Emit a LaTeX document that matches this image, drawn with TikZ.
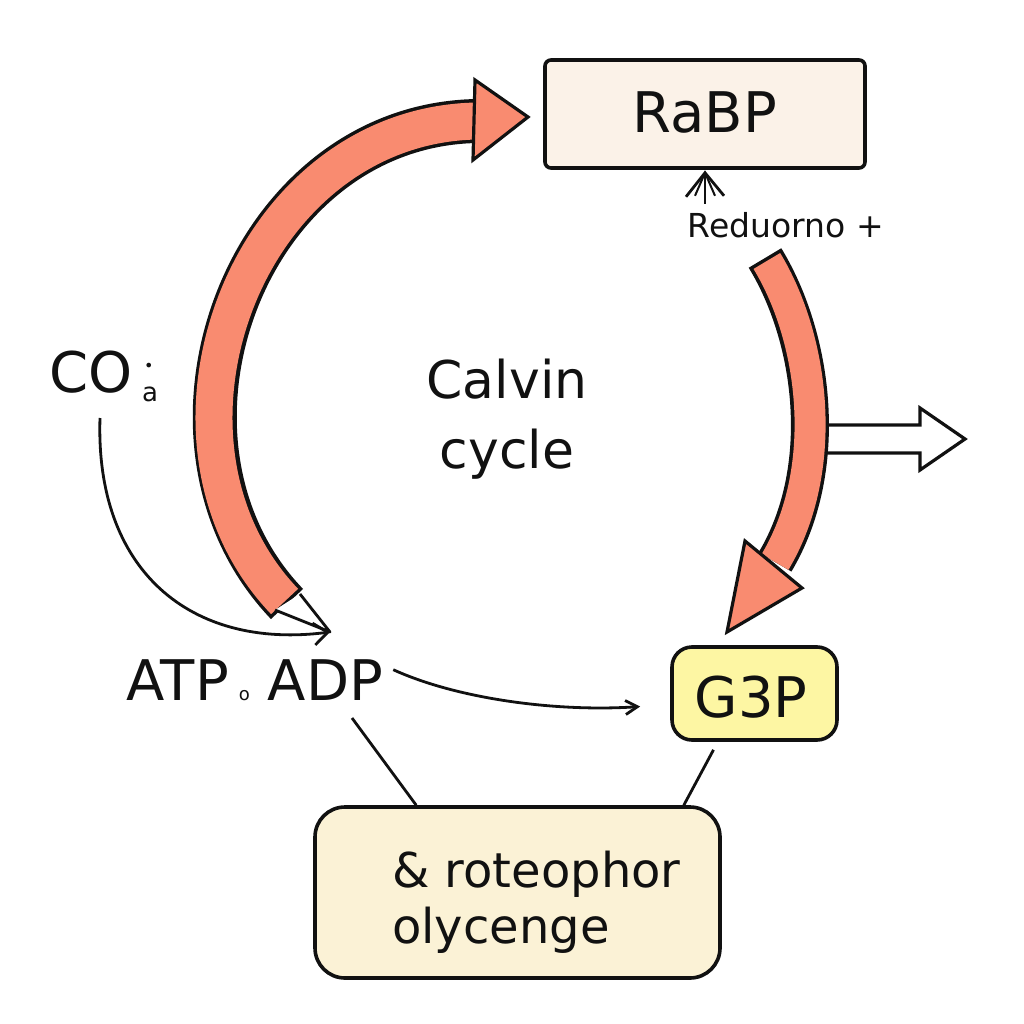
\documentclass[tikz,border=0pt]{standalone}
\usepackage{fontspec}
\setmainfont{DejaVu Sans}
\usetikzlibrary{arrows.meta,calc}
\definecolor{salmon}{HTML}{F98B70}
\definecolor{rabpfill}{HTML}{FBF2E8}
\definecolor{gfill}{HTML}{FDF6A3}
\definecolor{botfill}{HTML}{FBF2D6}
\definecolor{ink}{HTML}{111111}
\tikzset{
  boxstyle/.style={draw=ink, line width=3.6pt, inner sep=0pt},
  lbl/.style={text=ink, inner sep=0pt},
  thinline/.style={draw=ink, line width=2.8pt},
  bandout/.style={draw=ink, line cap=butt},
  bandin/.style={draw=salmon, line cap=butt},
}
\begin{document}
\begin{tikzpicture}[x=1pt,y=-1pt]
\useasboundingbox (0,0) rectangle (1024,1024);
\fill[white] (0,0) rectangle (1024,1024);

% boxes
\node[boxstyle, fill=rabpfill, rounded corners=6pt, minimum width=320pt, minimum height=108pt] (rabp) at (705,114) {};
\node[lbl, anchor=base, font=\fontsize{56}{60}\selectfont] (rabptxt) at (705,133) {RaBP};
\node[boxstyle, fill=gfill, rounded corners=20pt, minimum width=165pt, minimum height=93pt] (g3p) at (754.5,693.5) {};
\node[lbl, anchor=base, font=\fontsize{56}{60}\selectfont] (g3ptxt) at (751,717) {G3P};
\node[boxstyle, fill=botfill, rounded corners=30pt, minimum width=405pt, minimum height=171pt] (bot) at (517.5,892.5) {};
\node[lbl, anchor=base west, align=left, font=\fontsize{48}{56}\selectfont] (bottxt) at (392,943) {\& roteophor\\olycenge};

% labels
\node[lbl, anchor=base, font=\fontsize{33}{36}\selectfont] (red) at (786,237) {Reduorno +};
\node[lbl, anchor=base, font=\fontsize{56}{60}\selectfont] (co) at (91,392) {CO};
\node[lbl, anchor=base west, font=\fontsize{16}{16}\selectfont] (codot) at (144,371) {•};
\node[lbl, anchor=base west, font=\fontsize{26}{26}\selectfont] (cosub) at (142,401) {a};
\node[lbl, anchor=base, font=\fontsize{52}{70}\selectfont, align=center] (calvin) at (507,468) {Calvin\\cycle};
\node[lbl, anchor=base, font=\fontsize{56}{60}\selectfont] (atp) at (255,700) {ATP\hspace{10pt}{\fontsize{18}{18}\selectfont o}\hspace{18pt}ADP};

% hollow arrow to the right
\fill[white] (826,425) -- (920,425) -- (920,408) -- (965,439) -- (920,470) -- (920,453) -- (826,453) -- cycle;
\draw[ink, line width=3.2pt, line join=miter] (826,425) -- (920,425) -- (920,408) -- (965,439) -- (920,470) -- (920,453) -- (826,453);

% right big arrow
\coordinate (rs) at (765,258);
\coordinate (re) at (775,562);
\draw[bandout, line width=38pt] (rs) .. controls (815,340) and (830,470) .. (re);
\draw[bandin, line width=31pt, shorten <=3.5pt] (rs) .. controls (815,340) and (830,470) .. (re);
\draw[ink, fill=salmon, line width=3.2pt, line join=miter] (745,541) -- (727,632) -- (802,588) -- cycle;

% left big arrow
\coordinate (ls) at (287,604);
\coordinate (le) at (477,121);
\draw[bandout, line width=44pt] (ls) .. controls (130,440) and (245,125) .. (le);
\draw[bandin, line width=37pt, shorten <=3.5pt] (ls) .. controls (130,440) and (245,125) .. (le);
\draw[ink, fill=salmon, line width=3.2pt, line join=miter] (475,80) -- (528,117) -- (473,160) -- cycle;
\draw[ink, fill=white, line width=2.8pt, line join=round] (275,610) -- (330,632) -- (300,594);

% thin connectors
\draw[thinline, -{Straight Barb[length=14pt,width=22pt]}] ($(co.base)+(9,26)$) .. controls (95,570) and (190,650) .. (330,632);
\draw[thinline, -{Straight Barb[length=12pt,width=14pt]}] ($(atp.east)+(10,-10)$) .. controls (460,700) and (560,712) .. ($(g3p.west)+(-30,13)$);
\draw[thinline] ($(atp.base)+(97,18)$) -- ($(bot.north west)+(103,0)$);
\draw[thinline] ($(g3p.south)+(-41,8)$) -- ($(bot.north east)+(-38,0)$);
\coordinate (rtip) at ($(rabp.south)+(0,3)$);
\draw[thinline] ($(red.north)+(-81,-8)$) -- (rtip);
\draw[thinline, line join=miter] ($(rtip)+(-19,24)$) -- (rtip) -- ($(rtip)+(19,23)$);
\draw[thinline, line width=2pt] ($(rtip)+(-10,23)$) -- (rtip) -- ($(rtip)+(10,23)$);
\end{tikzpicture}
\end{document}
